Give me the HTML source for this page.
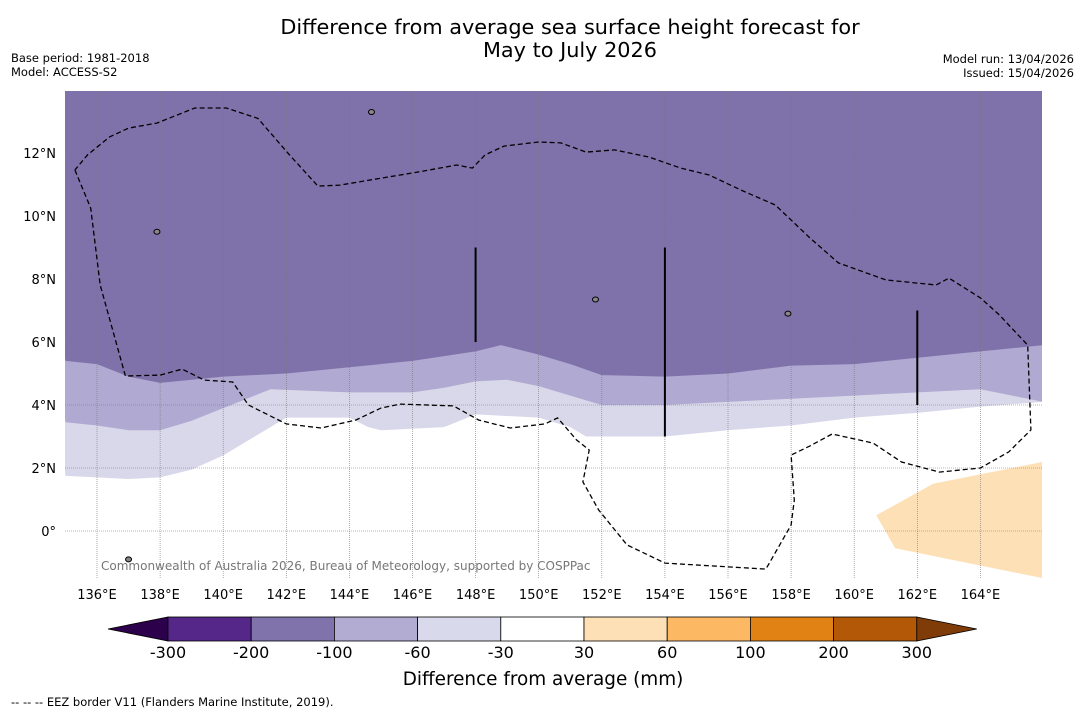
<!DOCTYPE html>
<html><head><meta charset="utf-8"><style>
body{margin:0;background:#fff;width:1085px;height:713px;overflow:hidden;font-family:"Liberation Sans","DejaVu Sans",sans-serif}
svg text{font-family:"DejaVu Sans","Liberation Sans",sans-serif}
</style></head><body>
<svg id="chart" width="1085" height="713" xmlns="http://www.w3.org/2000/svg">
<text x="570" y="34" text-anchor="middle" font-size="20.8">Difference from average sea surface height forecast for</text>
<text x="570" y="57" text-anchor="middle" font-size="20.8">May to July 2026</text>
<text x="11" y="62" font-size="11.5">Base period: 1981-2018</text>
<text x="11" y="76" font-size="11.5">Model: ACCESS-S2</text>
<text x="1074" y="63" text-anchor="end" font-size="11.5">Model run: 13/04/2026</text>
<text x="1074" y="77" text-anchor="end" font-size="11.5">Issued: 15/04/2026</text>
<g id="map"></g>
<g id="cbar"></g>
<text x="543" y="685" text-anchor="middle" font-size="18.4">Difference from average (mm)</text>
<text x="11" y="706" font-size="11.5">--  --  -- EEZ border V11 (Flanders Marine Institute, 2019).</text>
</svg>
<script>
const lonTicks=[136,138,140,142,144,146,148,150,152,154,156,158,160,162,164];
const latTicks=[0,2,4,6,8,10,12];
// contour boundaries [lon, lat]
const darkEdge=[[135,5.4],[136,5.3],[137,4.9],[138,4.7],[140,4.9],[142,5.0],[144,5.2],[146,5.4],[148,5.7],[148.8,5.9],[150,5.6],[151,5.3],[152,4.95],[154,4.9],[156,5.0],[158,5.25],[160,5.3],[162,5.5],[164,5.7],[166,5.9]];
const midEdge=[[135,3.45],[136,3.35],[137,3.2],[138,3.2],[139,3.5],[140,3.9],[141.5,4.5],[144,4.4],[146,4.4],[147,4.55],[148,4.75],[149,4.8],[150,4.6],[151,4.3],[152,4.0],[154,4.0],[156,4.1],[158,4.2],[160,4.3],[162,4.4],[164,4.5],[166,4.1]];
const lightEdge=[[135,1.75],[136,1.7],[137,1.65],[138,1.7],[139,1.95],[140,2.4],[141,3.0],[142,3.6],[144,3.6],[144.6,3.3],[145,3.2],[147,3.3],[148,3.7],[150,3.6],[151,3.3],[151.5,3.0],[154,3.0],[156,3.2],[158,3.35],[160,3.6],[162,3.75],[164,3.95],[166,4.1]];
const posPatch=[[160.7,0.5],[161.3,-0.55],[166,-1.5],[166,2.2],[162.5,1.5]];
const eez=[[135.3,11.46],[135.8,10.25],[136.1,7.81],[136.9,4.92],[138.0,4.95],[138.7,5.14],[139.4,4.79],[140.3,4.73],[140.8,4.0],[142.0,3.4],[143.1,3.27],[144.2,3.52],[145.0,3.9],[145.6,4.03],[147.3,3.97],[148.1,3.52],[149.1,3.27],[150.2,3.4],[150.6,3.59],[151.2,2.89],[151.6,2.57],[151.4,1.56],[151.9,0.67],[152.8,-0.44],[154.0,-1.02],[157.2,-1.21],[158.0,0.19],[158.1,0.98],[158.0,2.41],[158.6,2.7],[159.3,3.08],[160.6,2.79],[161.5,2.19],[162.7,1.87],[164.0,2.0],[164.9,2.51],[165.6,3.21],[165.5,5.9],[164.6,6.86],[164.0,7.4],[163.0,8.03],[162.6,7.81],[161.0,7.97],[159.5,8.51],[158.6,9.3],[157.5,10.35],[156.4,10.83],[155.4,11.3],[154.5,11.52],[153.5,11.87],[152.4,12.1],[151.5,12.03],[150.7,12.32],[150.0,12.35],[148.9,12.22],[148.3,11.94],[147.9,11.52],[147.4,11.62],[146.2,11.4],[145.0,11.2],[143.7,10.98],[143.0,10.95],[142.1,11.94],[141.1,13.1],[140.1,13.43],[139.1,13.43],[137.9,12.95],[137.0,12.79],[136.4,12.51],[135.7,11.94],[135.3,11.46]];
const vLines=[[148,9,6],[154,9,3],[162,7,4]];
const cbLabels=["-300","-200","-100","-60","-30","30","60","100","200","300"];
const cbColors=["#542788","#8073ac","#b2abd2","#d8daeb","#ffffff","#fee0b6","#fdb863","#e08214","#b35806"];

const NS="http://www.w3.org/2000/svg";
const X0=65,X1=1042,Y0=91,Y1=578;
const x=lon=>97+(lon-136)*31.55;
const y=lat=>531-lat*31.5;
function el(t,a,p){const e=document.createElementNS(NS,t);for(const k in a)e.setAttribute(k,a[k]);p.appendChild(e);return e;}
const map=document.getElementById('map');
const pts=a=>a.map(p=>x(p[0]).toFixed(1)+","+y(p[1]).toFixed(1)).join(" ");
const cp=el('clipPath',{id:'mc'},map);el('rect',{x:X0,y:Y0,width:X1-X0,height:Y1-Y0},cp);
const g=el('g',{'clip-path':'url(#mc)'},map);
let r=el('rect',{x:X0,y:Y0,width:X1-X0,height:Y1-Y0,fill:'#ffffff'},g);

let p=el('polygon',{points:pts(lightEdge)+" 1100,0 0,0",fill:'#d9d8ea'},g);

p=el('polygon',{points:pts(midEdge)+" 1100,0 0,0",fill:'#b0a9d1'},g);

p=el('polygon',{points:pts(darkEdge)+" 1100,0 0,0",fill:'#7f72ab'},g);

p=el('polygon',{points:pts(posPatch),fill:'#fde0b6'},g);

lonTicks.forEach(l=>{const ln=el('line',{x1:x(l),x2:x(l),y1:Y0,y2:Y1,stroke:'#777','stroke-width':0.6,'stroke-dasharray':'1,1'},g);

const t=el('text',{x:x(l),y:599,'text-anchor':'middle','font-size':13},map);t.textContent=l+"°E";
});
latTicks.forEach(l=>{const ln=el('line',{x1:X0,x2:X1,y1:y(l),y2:y(l),stroke:'#777','stroke-width':0.6,'stroke-dasharray':'1,1'},g);

const t=el('text',{x:56,y:y(l)+5,'text-anchor':'end','font-size':13},map);t.textContent=l===0?"0°":l+"°N";
});
p=el('polyline',{points:pts(eez),fill:'none',stroke:'#000','stroke-width':1.3,'stroke-dasharray':'5,3'},g);

vLines.forEach(v=>{const ln=el('line',{x1:x(v[0]),x2:x(v[0]),y1:y(v[1]),y2:y(v[2]),stroke:'#000','stroke-width':2},g);
});
[[137.9,9.5],[144.7,13.3],[157.9,6.9],[151.8,7.35],[137,-0.9]].forEach(i=>{const c=el('ellipse',{cx:x(i[0]),cy:y(i[1]),rx:3,ry:2.5,fill:'#888',stroke:'#000','stroke-width':1},g);
});
let t=el('text',{x:101,y:570,'font-size':12,fill:'#777'},g);t.textContent="Commonwealth of Australia 2026, Bureau of Meteorology, supported by COSPPac";

const cb=document.getElementById('cbar');
const cx0=168,cw=83.2,cy=617,ch=24;
p=el('polygon',{points:`108,${cy+ch/2} ${cx0},${cy} ${cx0},${cy+ch}`,fill:'#2d004b',stroke:'#000','stroke-width':0.8},cb);

cbColors.forEach((c,i)=>{const rr=el('rect',{x:cx0+i*cw,y:cy,width:cw,height:ch,fill:c,stroke:'#000','stroke-width':0.8},cb);
});
const xe=cx0+cbColors.length*cw;
p=el('polygon',{points:`${xe},${cy} ${xe+60},${cy+ch/2} ${xe},${cy+ch}`,fill:'#7f3b08',stroke:'#000','stroke-width':0.8},cb);

cbLabels.forEach((l,i)=>{const tt=el('text',{x:cx0+i*cw,y:658,'text-anchor':'middle','font-size':16},cb);tt.textContent=l;
});
</script>
</body></html>
